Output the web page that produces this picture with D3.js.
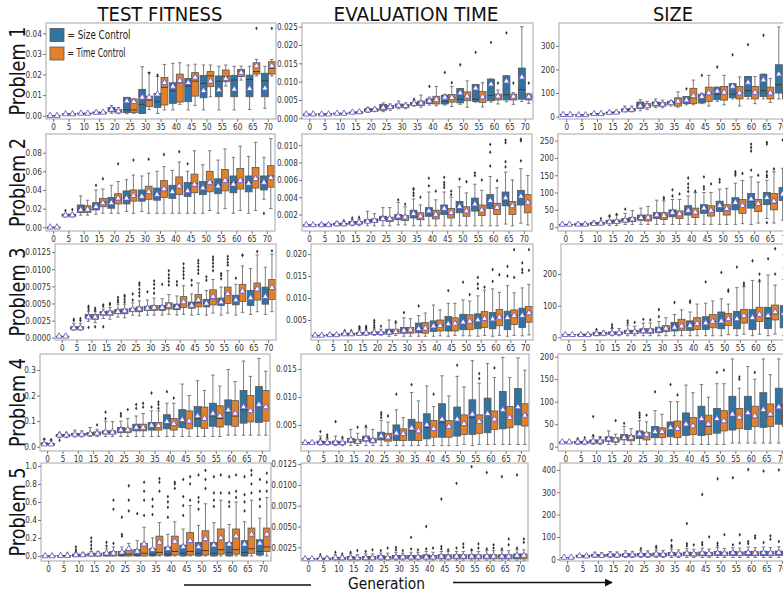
<!DOCTYPE html>
<html><head><meta charset="utf-8">
<script src="https://cdn.jsdelivr.net/npm/d3@7"></script>
<style>
body{margin:0;background:#fff}
svg{display:block;font-family:"DejaVu Sans",sans-serif}
</style>
</head><body>
<svg id="chart" width="783" height="594"></svg>
<script>
// Box statistics per generation: [lowWhisker, q1, median, q3, highWhisker, mean]
// SC = Size Control, TC = Time Control. Outliers: [generationIndex, series(0=SC,1=TC), value]
const generations = [0,5,10,15,20,25,30,35,40,45,50,55,60,65,70];
const metricTitles = ["TEST FITNESS","EVALUATION TIME","SIZE"];
const problemLabels = ["Problem 1","Problem 2","Problem 3","Problem 4","Problem 5"];
const seriesNames = ["Size Control","Time Control"];
const seriesColors = ["#3274a1","#e1812c"];

// ---------- Problem 1 ----------
const p1FitSC = [[0,0,0,0,0,0],[0.0006,0.0007,0.0008,0.0009,0.001,0.0008],[0.0008,0.0009,0.0011,0.0012,0.0014,0.0011],[0.001,0.0012,0.0014,0.0018,0.0022,0.0015],[0.0012,0.0019,0.0027,0.004,0.005,0.003],[0.001,0.0015,0.0028,0.0089,0.0089,0.0071],[0.0011,0.0011,0.0055,0.0128,0.0238,0.0089],[0.0011,0.004,0.0068,0.0108,0.019,0.0104],[0.0028,0.006,0.0121,0.016,0.0254,0.0142],[0.0028,0.0068,0.0144,0.0181,0.0246,0.016],[0.0028,0.0087,0.0157,0.0196,0.0246,0.0121],[0.0028,0.0092,0.0168,0.0193,0.024,0.0125],[0.0028,0.0092,0.0173,0.0196,0.024,0.0128],[0.003,0.0092,0.0176,0.0197,0.024,0.0131],[0.0036,0.0092,0.017,0.0206,0.024,0.0133]];
const p1FitTC = [[0,0,0,0,0,0],[0.0006,0.0007,0.0008,0.0009,0.001,0.0008],[0.0008,0.0009,0.0011,0.0012,0.0014,0.0011],[0.001,0.0012,0.0014,0.0017,0.002,0.0016],[0.001,0.0015,0.002,0.003,0.004,0.0022],[0.0012,0.0015,0.0028,0.0081,0.0081,0.0068],[0.003,0.0044,0.0076,0.0095,0.021,0.0089],[0.0028,0.0052,0.0138,0.0186,0.0249,0.016],[0.0055,0.0066,0.016,0.0202,0.0257,0.017],[0.005,0.0095,0.0168,0.0209,0.025,0.0186],[0.0092,0.0141,0.0193,0.0214,0.0246,0.0167],[0.0144,0.0165,0.019,0.0222,0.0246,0.018],[0.0173,0.019,0.0217,0.0225,0.0241,0.0209],[0.0193,0.0202,0.0214,0.0257,0.0273,0.0241],[0.0193,0.0202,0.023,0.0262,0.0273,0.0241]];
const p1FitOut = [[6,1,0.0207],[7,0,0.0197],[13,1,0.0424],[14,1,0.0424]];

const p1EvalSC = [[0.0011,0.0011,0.0011,0.0011,0.0011,0.0011],[0.001,0.0011,0.0011,0.0012,0.0012,0.0011],[0.0011,0.0012,0.0013,0.0014,0.0015,0.0013],[0.0013,0.0014,0.0015,0.0017,0.0019,0.0016],[0.0016,0.0019,0.0022,0.0026,0.003,0.0022],[0.0018,0.0022,0.0029,0.0038,0.0042,0.0029],[0.0026,0.003,0.0034,0.0039,0.0047,0.0035],[0.0033,0.0036,0.0039,0.0043,0.0048,0.004],[0.0036,0.004,0.0046,0.0053,0.0058,0.0047],[0.0036,0.0039,0.0046,0.0063,0.0065,0.0057],[0.0038,0.0042,0.0052,0.0081,0.0081,0.0069],[0.0044,0.0046,0.0052,0.0092,0.0092,0.0082],[0.0044,0.0048,0.0062,0.0107,0.0107,0.0093],[0.0045,0.005,0.0064,0.0116,0.0116,0.0101],[0.0046,0.0052,0.0078,0.0137,0.025,0.0112]];
const p1EvalTC = [[0.0011,0.0011,0.0011,0.0011,0.0011,0.0011],[0.001,0.0011,0.0011,0.0012,0.0012,0.0011],[0.0011,0.0012,0.0013,0.0014,0.0015,0.0013],[0.0013,0.0015,0.0016,0.0018,0.002,0.0017],[0.0018,0.002,0.0023,0.0026,0.0029,0.0024],[0.0022,0.0027,0.003,0.0035,0.0039,0.0031],[0.0026,0.003,0.0034,0.0038,0.0042,0.0034],[0.003,0.0035,0.0041,0.0047,0.0063,0.0041],[0.0034,0.0039,0.005,0.006,0.0087,0.0051],[0.0032,0.0044,0.0055,0.0065,0.0087,0.0056],[0.003,0.0048,0.006,0.0072,0.0102,0.006],[0.0031,0.0043,0.0057,0.0073,0.0097,0.0058],[0.0039,0.005,0.0057,0.0066,0.0077,0.006],[0.0038,0.005,0.0057,0.0066,0.007,0.0059],[0.004,0.005,0.0058,0.0066,0.0068,0.0059]];
const p1EvalOut = [[7,0,0.0052],[8,0,0.0087],[9,0,0.0125],[9,1,0.0097],[10,0,0.0146],[11,0,0.018],[12,0,0.0207],[12,1,0.0096],[13,0,0.0233],[13,1,0.0096],[14,1,0.0096]];

const p1SizeSC = [[8,8,8,8,8,8],[6,7,7,8,9,7],[9,10,12,13,15,12],[13,15,17,19,22,17],[20,24,28,33,45,28],[25,35,45,62,72,45],[38,45,55,62,75,55],[45,52,58,65,68,58],[50,55,68,85,85,70],[55,58,80,95,100,85],[65,72,95,125,125,108],[75,80,95,140,140,128],[75,85,110,170,170,145],[75,85,110,180,180,155],[75,100,135,220,380,180]];
const p1SizeTC = [[8,8,8,8,8,8],[6,7,7,8,9,7],[9,10,12,13,15,12],[14,16,18,20,23,18],[20,25,30,35,45,30],[30,40,45,55,65,45],[38,45,52,60,70,52],[40,45,60,80,105,65],[50,55,80,120,155,88],[45,65,100,125,175,100],[50,70,100,128,175,103],[45,75,100,128,168,100],[55,75,100,128,170,102],[60,75,100,125,162,100],[60,75,100,125,165,100]];
const p1SizeOut = [[8,0,118],[9,0,175],[10,0,210],[11,0,262],[12,0,305],[13,0,345]];

// ---------- Problem 2 ----------
const p2FitSC = [[0,0,0,0,0,0],[0.011,0.012,0.013,0.014,0.015,0.013],[0.013,0.0157,0.019,0.0239,0.0336,0.0186],[0.014,0.0186,0.021,0.0264,0.04,0.022],[0.015,0.0204,0.026,0.032,0.045,0.026],[0.017,0.025,0.031,0.039,0.051,0.031],[0.017,0.028,0.033,0.04,0.055,0.033],[0.015,0.029,0.035,0.042,0.06,0.035],[0.015,0.031,0.037,0.045,0.061,0.038],[0.015,0.033,0.039,0.048,0.06,0.039],[0.015,0.035,0.042,0.049,0.067,0.042],[0.015,0.036,0.045,0.052,0.072,0.044],[0.015,0.037,0.048,0.055,0.075,0.046],[0.015,0.038,0.048,0.055,0.076,0.047],[0.03,0.04,0.049,0.055,0.075,0.048]];
const p2FitTC = [[0,0,0,0,0,0],[0.011,0.012,0.013,0.014,0.015,0.013],[0.013,0.016,0.019,0.023,0.029,0.019],[0.015,0.022,0.027,0.031,0.041,0.026],[0.015,0.025,0.03,0.036,0.049,0.031],[0.015,0.028,0.034,0.04,0.056,0.034],[0.015,0.03,0.037,0.044,0.058,0.038],[0.015,0.032,0.04,0.05,0.065,0.041],[0.015,0.035,0.043,0.054,0.07,0.044],[0.015,0.037,0.047,0.057,0.082,0.046],[0.018,0.038,0.048,0.06,0.082,0.048],[0.02,0.039,0.05,0.062,0.084,0.05],[0.018,0.041,0.05,0.063,0.087,0.05],[0.018,0.042,0.051,0.064,0.091,0.052],[0.02,0.043,0.055,0.066,0.095,0.053]];
const p2FitOut = [[1,0,0.018],[1,1,0.019],[3,0,0.045],[3,1,0.052],[4,1,0.068],[5,1,0.072],[6,1,0.073],[7,1,0.078],[8,1,0.081],[9,0,0.068],[14,0,0.015]];

const p2EvalSC = [[0.0008,0.0008,0.0008,0.0008,0.0008,0.0008],[0.0007,0.00075,0.0008,0.0009,0.001,0.0008],[0.0007,0.0008,0.0009,0.001,0.0012,0.0009],[0.0007,0.0009,0.001,0.0012,0.0014,0.001],[0.0007,0.0011,0.0012,0.0014,0.0024,0.0012],[0.0007,0.0013,0.0015,0.0018,0.0028,0.0015],[0.0008,0.0014,0.0018,0.002,0.0034,0.0018],[0.0007,0.0016,0.002,0.0025,0.0038,0.0021],[0.0007,0.0018,0.0023,0.0028,0.0046,0.0024],[0.0007,0.002,0.0026,0.0031,0.0046,0.0027],[0.0007,0.0022,0.0029,0.0035,0.0052,0.0029],[0.0007,0.0024,0.0032,0.0039,0.0055,0.0032],[0.0007,0.0027,0.0035,0.0043,0.0064,0.0036],[0.0009,0.003,0.0037,0.0046,0.0069,0.0039],[0.001,0.0031,0.004,0.0048,0.0073,0.0041]];
const p2EvalTC = [[0.0008,0.0008,0.0008,0.0008,0.0008,0.0008],[0.0007,0.00075,0.0008,0.0009,0.001,0.0008],[0.0007,0.0008,0.0009,0.001,0.0012,0.0009],[0.0007,0.0009,0.001,0.0012,0.0015,0.0011],[0.0007,0.0011,0.0013,0.0015,0.0021,0.0013],[0.0007,0.0012,0.0014,0.0017,0.0028,0.0015],[0.0008,0.0013,0.0016,0.0019,0.0029,0.0017],[0.0007,0.0014,0.0018,0.0022,0.0031,0.0018],[0.0007,0.0015,0.002,0.0025,0.0037,0.002],[0.0007,0.0016,0.0021,0.0027,0.004,0.0022],[0.0007,0.0018,0.0024,0.0029,0.0045,0.0024],[0.0007,0.0019,0.0025,0.0031,0.0048,0.0025],[0.0007,0.002,0.0026,0.0033,0.0051,0.0028],[0.0007,0.002,0.003,0.0035,0.006,0.003],[0.0008,0.0022,0.0033,0.0043,0.0065,0.0034]];
const p2EvalOut = [[2,1,0.0013],[3,0,0.0016],[3,1,0.0017],[6,0,0.0037],[6,1,0.0032],[7,0,0.0042],[7,0,0.0045],[7,0,0.0049],[7,0,0.005],[7,1,0.004],[8,0,0.0053],[8,0,0.0062],[8,1,0.0047],[9,0,0.0051],[9,0,0.0054],[9,0,0.0057],[9,0,0.0063],[9,1,0.0043],[9,1,0.0047],[10,0,0.0061],[10,1,0.0058],[11,0,0.0065],[11,0,0.0068],[11,1,0.006],[12,0,0.0076],[12,0,0.0092],[12,0,0.0101],[12,1,0.0059],[13,0,0.0075],[13,0,0.0081],[13,0,0.0103],[13,0,0.0106],[14,0,0.0082],[14,0,0.0105],[14,0,0.0107]];

const p2SizeSC = [[8,8,8,8,8,8],[5,6,8,10,12,8],[6,8,10,14,18,10],[5,12,15,20,30,15],[8,15,20,25,40,20],[8,20,28,35,55,27],[8,25,35,42,78,35],[8,30,40,50,80,42],[8,35,47,62,90,48],[8,40,55,65,100,55],[8,45,60,75,110,62],[8,50,68,85,127,71],[8,55,75,97,145,81],[25,65,80,100,135,85],[20,77,95,115,170,95]];
const p2SizeTC = [[8,8,8,8,8,8],[5,6,8,10,12,8],[6,8,10,14,18,11],[5,12,16,21,35,16],[8,16,22,28,48,23],[8,18,27,35,60,28],[8,22,32,42,76,33],[8,25,38,47,80,38],[8,28,40,55,100,43],[8,32,47,62,100,48],[8,35,52,65,112,53],[10,40,60,80,135,62],[12,45,65,80,130,68],[12,50,70,97,160,75],[15,55,78,100,200,80]];
const p2SizeOut = [[2,1,25],[3,0,33],[3,1,37],[4,0,52],[6,1,82],[6,1,86],[7,0,90],[7,0,108],[7,1,96],[8,0,103],[8,0,114],[8,0,125],[8,0,142],[8,1,104],[9,0,110],[9,0,117],[9,0,145],[9,1,125],[10,0,130],[10,0,138],[11,0,150],[11,0,155],[11,0,160],[11,1,155],[12,0,165],[12,0,220],[12,0,230],[12,0,240],[12,1,150],[13,0,13],[13,0,145],[13,0,150],[13,0,160],[13,0,240],[13,0,245],[13,1,168],[14,0,252]];

// ---------- Problem 3 ----------
const p3FitSC = [[0.0002,0.0002,0.0002,0.0002,0.0002,0.0002],[0.0011,0.0013,0.0014,0.0016,0.0021,0.0014],[0.0024,0.0028,0.003,0.0034,0.0038,0.003],[0.0028,0.0033,0.0036,0.0038,0.0042,0.0036],[0.003,0.0035,0.0038,0.0041,0.0049,0.0038],[0.0033,0.0038,0.004,0.0043,0.0051,0.0041],[0.0033,0.004,0.0043,0.0046,0.0055,0.0043],[0.0033,0.004,0.0044,0.0047,0.0057,0.0044],[0.0033,0.0041,0.0045,0.0049,0.0061,0.0045],[0.0033,0.0043,0.0047,0.0052,0.0064,0.0047],[0.0033,0.0045,0.005,0.0056,0.0069,0.005],[0.0033,0.0047,0.0052,0.0058,0.0074,0.0052],[0.0033,0.0048,0.0055,0.0062,0.0078,0.0055],[0.0034,0.0047,0.0057,0.0069,0.0101,0.0058],[0.0034,0.0049,0.006,0.0074,0.0103,0.006]];
const p3FitTC = [[0.0002,0.0002,0.0002,0.0002,0.0002,0.0002],[0.0011,0.0013,0.0014,0.0016,0.0021,0.0014],[0.0022,0.0027,0.003,0.0034,0.0038,0.003],[0.0027,0.0033,0.0036,0.0039,0.0044,0.0036],[0.0029,0.0035,0.0038,0.0042,0.0049,0.0039],[0.0032,0.0038,0.0041,0.0045,0.0054,0.0042],[0.0033,0.004,0.0043,0.0047,0.0058,0.0044],[0.0034,0.0042,0.0046,0.0051,0.0063,0.0047],[0.0034,0.0044,0.005,0.006,0.0076,0.0052],[0.0034,0.0045,0.0051,0.0063,0.008,0.0055],[0.0036,0.0048,0.0057,0.007,0.0085,0.006],[0.0036,0.005,0.0062,0.0074,0.0098,0.0064],[0.0037,0.0053,0.0068,0.0078,0.0105,0.0068],[0.0038,0.0055,0.0069,0.008,0.0121,0.0071],[0.0038,0.0056,0.0071,0.0085,0.0122,0.0073]];
const p3FitOut = [[1,0,0.0025],[1,0,0.0027],[1,1,0.0025],[1,1,0.0028],[2,0,0.0041],[2,0,0.0044],[2,0,0.0046],[2,0,0.0015],[2,1,0.004],[2,1,0.0043],[2,1,0.0016],[3,0,0.0046],[3,0,0.0048],[3,0,0.0016],[3,1,0.0048],[3,1,0.005],[4,0,0.0052],[4,0,0.0055],[4,0,0.0059],[4,1,0.0052],[4,1,0.0056],[4,1,0.006],[4,1,0.0062],[5,0,0.0055],[5,0,0.0064],[5,1,0.0061],[5,1,0.0066],[5,1,0.0071],[5,1,0.0077],[5,1,0.008],[6,0,0.0067],[6,1,0.0065],[6,1,0.0072],[6,1,0.0078],[6,1,0.0083],[7,0,0.0078],[7,1,0.0077],[7,1,0.0082],[7,1,0.0087],[7,1,0.0092],[7,1,0.0098],[8,0,0.0077],[8,0,0.0082],[8,1,0.0087],[8,1,0.0092],[8,1,0.0097],[8,1,0.0102],[8,1,0.0108],[9,0,0.0077],[9,0,0.0084],[9,1,0.0094],[9,1,0.0099],[9,1,0.0104],[9,1,0.0109],[9,1,0.0113],[10,0,0.0084],[10,0,0.0089],[10,1,0.0098],[10,1,0.0104],[10,1,0.0109],[10,1,0.0114],[10,1,0.0118],[11,0,0.0086],[11,0,0.0091],[11,0,0.0094],[11,1,0.0106],[11,1,0.011],[11,1,0.0115],[11,1,0.0119],[12,0,0.0087],[12,1,0.012],[12,1,0.0121],[13,1,0.0126],[14,1,0.0127]];

const p3EvalSC = [[0.0015,0.0015,0.0015,0.0015,0.0015,0.0015],[0.0014,0.0015,0.0016,0.0017,0.0019,0.0016],[0.0015,0.0016,0.0018,0.002,0.0023,0.0018],[0.0015,0.0017,0.0019,0.0021,0.0027,0.0019],[0.0015,0.0018,0.002,0.0023,0.0029,0.0021],[0.0013,0.0018,0.0023,0.0029,0.005,0.0022],[0.0013,0.002,0.0026,0.0033,0.0055,0.0026],[0.0013,0.0021,0.003,0.0043,0.006,0.003],[0.0013,0.0024,0.0035,0.0048,0.0084,0.0036],[0.0013,0.0025,0.004,0.0058,0.0088,0.0041],[0.0014,0.0028,0.0045,0.0063,0.0096,0.0045],[0.0013,0.003,0.0048,0.0064,0.0105,0.005],[0.0013,0.003,0.0052,0.0067,0.0121,0.0052],[0.0013,0.0028,0.0055,0.007,0.0128,0.0055],[0.0014,0.0033,0.006,0.0077,0.0123,0.006]];
const p3EvalTC = [[0.0015,0.0015,0.0015,0.0015,0.0015,0.0015],[0.0014,0.0015,0.0016,0.0017,0.0019,0.0016],[0.0015,0.0016,0.0018,0.002,0.0023,0.0018],[0.0015,0.0017,0.0019,0.0022,0.0027,0.002],[0.0015,0.0018,0.002,0.0023,0.0029,0.0021],[0.0015,0.0019,0.0023,0.0029,0.0043,0.0023],[0.0013,0.002,0.0027,0.0033,0.0053,0.0027],[0.0013,0.002,0.003,0.0044,0.0066,0.0031],[0.0014,0.0025,0.0038,0.005,0.0073,0.0037],[0.0015,0.0025,0.004,0.0055,0.0088,0.0042],[0.0014,0.0028,0.0046,0.0062,0.0093,0.0047],[0.0015,0.0033,0.005,0.0069,0.0118,0.0053],[0.0015,0.0037,0.0055,0.0074,0.0113,0.0056],[0.0015,0.004,0.006,0.0073,0.0112,0.006],[0.0016,0.0045,0.0065,0.0081,0.0131,0.0066]];
const p3EvalOut = [[2,0,0.0026],[2,1,0.0026],[3,0,0.003],[3,0,0.0033],[3,0,0.0035],[3,1,0.003],[3,1,0.0033],[3,1,0.0036],[4,0,0.0033],[4,0,0.0038],[4,0,0.0044],[4,0,0.0049],[4,1,0.0036],[5,1,0.0046],[6,0,0.0067],[7,0,0.0082],[9,0,0.0117],[10,0,0.0136],[10,1,0.0108],[11,0,0.0122],[11,0,0.0132],[11,0,0.0147],[11,1,0.0125],[12,0,0.0138],[12,0,0.0165],[12,1,0.0153],[13,0,0.015],[13,0,0.0172],[13,1,0.0147],[13,1,0.021],[14,0,0.0158],[14,0,0.0165],[14,0,0.018],[14,1,0.0163],[14,1,0.021]];

const p3SizeSC = [[8,8,8,8,8,8],[5,6,8,10,12,8],[5,8,11,15,20,11],[5,10,13,17,28,13],[5,12,17,22,38,17],[5,14,20,27,45,20],[5,15,23,32,50,23],[5,20,30,47,72,31],[5,22,38,52,80,37],[5,25,43,65,108,45],[5,27,50,80,122,51],[5,27,55,82,157,58],[5,25,60,88,180,62],[5,28,60,95,197,68],[5,30,70,100,183,75]];
const p3SizeTC = [[8,8,8,8,8,8],[5,6,8,10,12,8],[5,8,11,15,20,12],[5,10,13,17,28,14],[5,12,17,22,35,17],[5,13,20,27,45,21],[5,18,27,37,62,28],[5,22,33,57,87,35],[5,25,42,62,105,43],[5,30,50,72,115,50],[8,37,55,75,105,58],[10,45,65,88,160,68],[10,50,70,95,175,72],[10,55,75,102,165,80],[10,55,75,105,175,78]];
const p3SizeOut = [[2,0,25],[3,0,32],[3,0,40],[4,0,45],[4,0,52],[4,1,47],[5,0,57],[5,1,55],[6,0,65],[6,0,88],[7,0,110],[8,0,110],[8,0,115],[9,0,175],[10,0,205],[10,1,145],[10,1,150],[11,0,222],[11,1,165],[11,1,172],[12,0,242],[12,1,180],[12,1,200],[13,0,248],[13,1,200],[13,1,280],[14,0,218],[14,0,262],[14,1,225]];

// ---------- Problem 4 ----------
const p4FitSC = [[0.005,0.008,0.012,0.015,0.03,0.01],[0.035,0.04,0.045,0.048,0.05,0.045],[0.038,0.045,0.048,0.052,0.065,0.048],[0.04,0.046,0.05,0.055,0.075,0.05],[0.04,0.05,0.055,0.062,0.1,0.057],[0.04,0.055,0.065,0.075,0.1,0.065],[0.04,0.062,0.075,0.088,0.12,0.075],[0.04,0.065,0.08,0.095,0.14,0.083],[0.04,0.07,0.09,0.125,0.17,0.098],[0.04,0.075,0.1,0.145,0.245,0.105],[0.04,0.078,0.11,0.157,0.258,0.12],[0.04,0.08,0.12,0.17,0.28,0.13],[0.045,0.085,0.135,0.183,0.302,0.143],[0.045,0.092,0.145,0.22,0.335,0.155],[0.045,0.095,0.16,0.235,0.345,0.165]];
const p4FitTC = [[0.005,0.008,0.01,0.013,0.025,0.01],[0.035,0.04,0.045,0.048,0.05,0.045],[0.038,0.044,0.048,0.052,0.062,0.048],[0.04,0.046,0.05,0.058,0.068,0.052],[0.04,0.05,0.056,0.062,0.098,0.056],[0.04,0.056,0.063,0.072,0.11,0.065],[0.04,0.062,0.075,0.088,0.13,0.075],[0.04,0.065,0.078,0.095,0.14,0.082],[0.04,0.065,0.085,0.11,0.17,0.09],[0.04,0.07,0.095,0.14,0.2,0.1],[0.04,0.072,0.105,0.155,0.22,0.11],[0.04,0.077,0.11,0.16,0.237,0.12],[0.045,0.08,0.12,0.18,0.255,0.13],[0.045,0.097,0.14,0.2,0.275,0.14],[0.045,0.1,0.15,0.22,0.295,0.155]];
const p4FitOut = [[0,0,0.03],[0,1,0.028],[1,0,0.025],[1,0,0.055],[1,1,0.055],[3,1,0.085],[4,0,0.11],[4,0,0.135],[5,0,0.12],[5,0,0.13],[5,1,0.145],[6,0,0.15],[6,0,0.165],[6,1,0.155],[6,1,0.17],[7,0,0.155],[7,0,0.21],[7,1,0.15],[7,1,0.165],[7,1,0.175],[8,0,0.215],[8,1,0.19]];

const p4EvalSC = [[0.0018,0.0018,0.0018,0.0018,0.0018,0.0018],[0.0014,0.0017,0.0018,0.0021,0.003,0.0018],[0.0013,0.0016,0.0018,0.0021,0.003,0.0018],[0.0013,0.0019,0.0022,0.0026,0.0042,0.0023],[0.0013,0.0021,0.0025,0.003,0.0045,0.0025],[0.0013,0.0023,0.003,0.0037,0.0058,0.003],[0.0013,0.0022,0.0035,0.005,0.0077,0.0035],[0.0013,0.0022,0.004,0.006,0.0108,0.0044],[0.0013,0.0025,0.0045,0.007,0.012,0.005],[0.0013,0.0028,0.0055,0.0088,0.0138,0.006],[0.0013,0.003,0.0058,0.0082,0.0137,0.006],[0.0013,0.0033,0.0063,0.0095,0.0165,0.0069],[0.0015,0.0036,0.0068,0.0098,0.016,0.007],[0.0015,0.0043,0.0075,0.011,0.0171,0.0077],[0.0015,0.005,0.008,0.0115,0.017,0.0082]];
const p4EvalTC = [[0.0018,0.0018,0.0018,0.0018,0.0018,0.0018],[0.0014,0.0016,0.0018,0.002,0.0025,0.0018],[0.0013,0.0016,0.0018,0.002,0.0025,0.0018],[0.0013,0.0017,0.002,0.0024,0.0035,0.002],[0.0013,0.0018,0.0022,0.0026,0.0042,0.0022],[0.0013,0.0021,0.0027,0.0035,0.0055,0.0028],[0.0013,0.0022,0.0033,0.0043,0.0063,0.0034],[0.0013,0.0022,0.0038,0.0055,0.0093,0.0039],[0.0013,0.0028,0.0042,0.0058,0.0083,0.0043],[0.0013,0.0028,0.0045,0.0058,0.0102,0.0047],[0.0015,0.0033,0.005,0.0068,0.0118,0.0052],[0.0015,0.0035,0.0055,0.0068,0.0125,0.0056],[0.0015,0.0042,0.0058,0.0075,0.0135,0.006],[0.0015,0.0045,0.0062,0.0083,0.0135,0.0063],[0.0015,0.0048,0.0068,0.0088,0.0148,0.0067]];
const p4EvalOut = [[1,0,0.0038],[1,0,0.0025],[1,1,0.0032],[1,1,0.0028],[2,0,0.0056],[2,1,0.0028],[3,1,0.0046],[4,0,0.0048],[5,0,0.0063],[5,0,0.0068],[5,0,0.0072],[5,1,0.0066],[6,0,0.0105],[7,0,0.0122],[8,1,0.0105],[10,0,0.0157],[11,1,0.0133],[11,1,0.0142],[12,1,0.0152]];

const p4SizeSC = [[10,10,10,10,10,10],[5,7,9,12,15,10],[5,8,11,15,22,12],[5,12,16,22,35,17],[5,15,20,27,45,20],[5,18,25,35,58,28],[5,20,30,45,80,33],[5,22,40,55,100,42],[5,25,48,75,137,50],[5,25,60,90,138,62],[5,30,60,85,140,62],[8,37,70,112,195,72],[8,38,72,112,178,75],[8,43,80,120,195,82],[8,50,88,130,195,88]];
const p4SizeTC = [[10,10,10,10,10,10],[5,7,9,12,15,10],[5,8,11,15,22,12],[5,10,14,20,28,15],[5,13,18,25,40,20],[5,15,25,32,55,27],[5,20,32,42,72,33],[5,20,38,57,100,40],[5,27,45,65,120,46],[5,27,45,70,110,50],[5,35,55,80,140,57],[8,40,62,85,130,65],[8,45,65,90,150,68],[8,45,68,95,160,72],[8,45,70,95,175,75]];
const p4SizeOut = [[1,0,15],[1,0,18],[1,1,20],[2,0,25],[2,0,67],[2,1,20],[3,1,58],[4,0,52],[5,0,65],[5,0,70],[5,0,75],[5,1,70],[6,0,122],[7,0,138],[7,1,115],[10,0,165],[10,1,170],[11,1,150],[11,1,155],[12,1,165],[14,1,165]];

// ---------- Problem 5 ----------
const p5FitSC = [[0,0,0,0,0,0],[0,0,0,0.005,0.01,0.003],[0,0,0,0.02,0.04,0.01],[0,0,0.005,0.03,0.05,0.02],[0,0,0.01,0.04,0.08,0.03],[0,0,0.01,0.05,0.1,0.04],[0,0,0.01,0.07,0.17,0.05],[0,0,0.02,0.08,0.2,0.07],[0,0,0.02,0.1,0.24,0.08],[0,0,0.03,0.12,0.3,0.1],[0,0,0.03,0.15,0.34,0.1],[0,0,0.03,0.15,0.37,0.12],[0,0,0.04,0.15,0.35,0.13],[0,0,0.04,0.17,0.38,0.13],[0,0.01,0.05,0.18,0.42,0.14]];
const p5FitTC = [[0,0,0,0,0,0],[0,0,0,0.005,0.01,0.003],[0,0,0,0.02,0.04,0.01],[0,0,0.005,0.03,0.05,0.02],[0,0,0.02,0.05,0.1,0.03],[0,0,0.02,0.07,0.14,0.08],[0,0,0.03,0.14,0.32,0.13],[0,0.01,0.04,0.22,0.37,0.15],[0,0.01,0.05,0.22,0.38,0.16],[0,0.01,0.05,0.26,0.56,0.17],[0,0.01,0.06,0.28,0.58,0.19],[0,0.02,0.07,0.3,0.62,0.2],[0,0.02,0.07,0.3,0.6,0.22],[0,0.03,0.08,0.31,0.62,0.24],[0,0.05,0.1,0.31,0.65,0.24]];
const p5FitOut = [[1,1,0.03],[2,0,0.05],[2,0,0.07],[2,0,0.1],[3,0,0.08],[3,0,0.12],[3,0,0.16],[3,0,0.2],[4,0,0.11],[4,0,0.15],[4,1,0.14],[4,1,0.52],[4,1,0.62],[5,0,0.22],[5,0,0.24],[5,0,0.43],[5,1,0.5],[5,1,0.62],[5,1,0.78],[6,0,0.47],[6,1,0.45],[6,1,0.62],[6,1,0.72],[6,1,0.82],[7,0,0.46],[7,0,0.55],[7,0,0.63],[7,1,0.72],[7,1,0.82],[7,1,0.86],[8,0,0.43],[8,0,0.54],[8,0,0.6],[8,0,0.66],[8,1,0.75],[8,1,0.8],[8,1,0.82],[9,0,0.45],[9,0,0.56],[9,0,0.66],[9,0,0.85],[9,1,0.62],[9,1,0.8],[9,1,0.88],[10,0,0.52],[10,0,0.6],[10,0,0.65],[10,0,0.9],[10,1,0.75],[10,1,0.85],[10,1,0.95],[11,0,0.55],[11,0,0.62],[11,0,0.7],[11,0,0.88],[11,1,0.7],[11,1,0.9],[12,0,0.55],[12,0,0.6],[12,0,0.7],[12,0,0.88],[12,1,0.65],[12,1,0.72],[12,1,0.9],[13,0,0.5],[13,0,0.6],[13,0,0.68],[13,0,0.88],[13,1,0.7],[13,1,0.8],[13,1,0.9],[13,1,0.95],[14,0,0.55],[14,0,0.63],[14,0,0.72],[14,0,0.85],[14,1,0.72],[14,1,0.82],[14,1,0.92]];

const p5EvalSC = [[0.0011,0.0011,0.0011,0.0011,0.0011,0.0011],[0.0009,0.001,0.0011,0.0012,0.0014,0.0011],[0.0009,0.001,0.0012,0.0013,0.0016,0.0012],[0.0009,0.001,0.0012,0.0014,0.0017,0.0012],[0.0009,0.001,0.0012,0.0014,0.0017,0.0012],[0.0009,0.0011,0.0012,0.0015,0.0018,0.0013],[0.0009,0.0011,0.0013,0.0015,0.0019,0.0013],[0.0009,0.0011,0.0013,0.0015,0.0019,0.0013],[0.0009,0.0011,0.0013,0.0016,0.002,0.0013],[0.0009,0.0011,0.0013,0.0016,0.002,0.0014],[0.0009,0.0011,0.0013,0.0016,0.002,0.0014],[0.0009,0.0011,0.0013,0.0016,0.0021,0.0014],[0.0009,0.0011,0.0013,0.0016,0.0021,0.0014],[0.0009,0.0011,0.0013,0.0016,0.0021,0.0014],[0.0009,0.0011,0.0014,0.0017,0.0022,0.0015]];
const p5EvalTC = [[0.0011,0.0011,0.0011,0.0011,0.0011,0.0011],[0.0009,0.001,0.0011,0.0012,0.0014,0.0011],[0.0009,0.001,0.0011,0.0013,0.0015,0.0012],[0.0009,0.001,0.0012,0.0013,0.0016,0.0012],[0.0009,0.001,0.0012,0.0014,0.0017,0.0012],[0.0009,0.001,0.0012,0.0014,0.0018,0.0012],[0.0009,0.0011,0.0012,0.0015,0.0018,0.0013],[0.0009,0.0011,0.0013,0.0015,0.0019,0.0013],[0.0009,0.0011,0.0013,0.0015,0.0019,0.0013],[0.0009,0.0011,0.0013,0.0016,0.002,0.0013],[0.0009,0.0011,0.0013,0.0016,0.002,0.0014],[0.0009,0.0011,0.0013,0.0016,0.002,0.0014],[0.0009,0.0011,0.0013,0.0016,0.0021,0.0014],[0.0009,0.0011,0.0013,0.0016,0.0021,0.0014],[0.0009,0.0011,0.0014,0.0017,0.0022,0.0015]];
const p5EvalOut = [[1,0,0.0016],[2,0,0.0019],[2,1,0.0017],[3,0,0.0019],[3,1,0.0021],[4,0,0.002],[4,1,0.0022],[5,0,0.0021],[5,1,0.0024],[6,0,0.0022],[6,0,0.0025],[6,1,0.0021],[7,0,0.0023],[7,0,0.0037],[7,1,0.0022],[8,0,0.0023],[8,0,0.005],[8,1,0.0024],[9,0,0.0023],[9,0,0.0026],[9,0,0.0083],[9,1,0.0022],[10,0,0.0024],[10,0,0.0102],[10,1,0.0025],[10,1,0.0029],[11,0,0.0022],[11,0,0.0122],[11,1,0.0024],[11,1,0.0029],[12,0,0.0023],[12,0,0.0115],[12,1,0.0024],[12,1,0.0028],[13,0,0.0023],[13,0,0.011],[13,1,0.0028],[13,1,0.0035],[14,0,0.0024],[14,0,0.0112],[14,1,0.0031],[14,1,0.0035]];

const p5SizeSC = [[8,8,8,8,8,8],[8,12,15,18,22,15],[8,13,17,22,32,18],[8,14,18,24,35,19],[8,14,19,25,38,20],[8,15,20,26,40,21],[8,15,21,28,42,23],[8,16,22,30,45,24],[8,16,23,32,48,26],[8,16,24,33,50,27],[8,17,25,35,52,28],[8,17,25,35,52,28],[8,17,26,36,55,29],[8,17,26,36,55,29],[8,18,27,37,56,30]];
const p5SizeTC = [[8,8,8,8,8,8],[8,11,14,17,21,14],[8,12,16,21,30,17],[8,13,17,23,33,18],[8,13,18,24,36,19],[8,14,19,25,38,20],[8,14,20,27,40,21],[8,15,21,28,42,22],[8,15,22,30,45,24],[8,15,22,31,46,25],[8,16,23,32,48,26],[8,16,23,33,50,26],[8,16,24,34,52,27],[8,16,24,34,52,27],[8,17,25,35,53,28]];
const p5SizeOut = [[5,0,48],[6,0,52],[6,0,58],[7,0,55],[7,0,62],[7,0,85],[8,0,60],[8,0,70],[8,0,160],[8,1,65],[9,0,65],[9,0,75],[9,0,290],[9,1,100],[10,0,62],[10,0,72],[10,0,360],[10,1,110],[11,0,65],[11,0,365],[11,1,72],[11,1,110],[12,0,70],[12,0,80],[12,0,402],[12,1,95],[12,1,105],[13,0,75],[13,0,395],[13,1,90],[13,1,105],[14,0,80],[14,0,400],[14,1,130]];

// Y tick values per panel
const p1FitTicks = [0,0.01,0.02,0.03,0.04];
const p1EvalTicks = [0,0.005,0.01,0.015,0.02,0.025];
const p1SizeTicks = [0,100,200,300];
const p2FitTicks = [0,0.02,0.04,0.06,0.08];
const p2EvalTicks = [0.002,0.004,0.006,0.008,0.01];
const p2SizeTicks = [0,50,100,150,200,250];
const p3FitTicks = [0,0.0025,0.005,0.0075,0.01,0.0125];
const p3EvalTicks = [0.005,0.01,0.015,0.02];
const p3SizeTicks = [0,100,200];
const p4FitTicks = [0,0.1,0.2,0.3];
const p4EvalTicks = [0.005,0.01,0.015];
const p4SizeTicks = [0,50,100,150,200];
const p5FitTicks = [0,0.2,0.4,0.6,0.8,1.0];
const p5EvalTicks = [0.0025,0.005,0.0075,0.01,0.0125];
const p5SizeTicks = [0,100,200,300,400];

// ---------- Layout ----------
const rowTop = [23,134,244,354,463];
const rowBottom = [119,231,340,451,561];
const colBounds = [
  [[46,276],[302,533],[559,790]],
  [[46,275],[302,532],[558,794]],
  [[55,276],[311,533],[561,795]],
  [[40,270],[301,529],[558,790]],
  [[41,271],[301,528],[560,790]]
];

const panels = [
  {row:0,col:0,sc:p1FitSC,tc:p1FitTC,out:p1FitOut,domain:[-0.0016,0.045],ticks:p1FitTicks,fmt:".2f"},
  {row:0,col:1,sc:p1EvalSC,tc:p1EvalTC,out:p1EvalOut,domain:[-0.0002,0.026],ticks:p1EvalTicks,fmt:".3f"},
  {row:0,col:2,sc:p1SizeSC,tc:p1SizeTC,out:p1SizeOut,domain:[-10,397],ticks:p1SizeTicks,fmt:"d"},
  {row:1,col:0,sc:p2FitSC,tc:p2FitTC,out:p2FitOut,domain:[-0.004,0.1],ticks:p2FitTicks,fmt:".2f"},
  {row:1,col:1,sc:p2EvalSC,tc:p2EvalTC,out:p2EvalOut,domain:[0.0001,0.0113],ticks:p2EvalTicks,fmt:".3f"},
  {row:1,col:2,sc:p2SizeSC,tc:p2SizeTC,out:p2SizeOut,domain:[-11,269],ticks:p2SizeTicks,fmt:"d"},
  {row:2,col:0,sc:p3FitSC,tc:p3FitTC,out:p3FitOut,domain:[-0.00034,0.0137],ticks:p3FitTicks,fmt:".4f"},
  {row:2,col:1,sc:p3EvalSC,tc:p3EvalTC,out:p3EvalOut,domain:[0.00045,0.0223],ticks:p3EvalTicks,fmt:".3f"},
  {row:2,col:2,sc:p3SizeSC,tc:p3SizeTC,out:p3SizeOut,domain:[-8.5,295],ticks:p3SizeTicks,fmt:"d"},
  {row:3,col:0,sc:p4FitSC,tc:p4FitTC,out:p4FitOut,domain:[-0.0168,0.3625],ticks:p4FitTicks,fmt:".1f"},
  {row:3,col:1,sc:p4EvalSC,tc:p4EvalTC,out:p4EvalOut,domain:[0.00033,0.0177],ticks:p4EvalTicks,fmt:".3f"},
  {row:3,col:2,sc:p4SizeSC,tc:p4SizeTC,out:p4SizeOut,domain:[-9.6,206],ticks:p4SizeTicks,fmt:"d"},
  {row:4,col:0,sc:p5FitSC,tc:p5FitTC,out:p5FitOut,domain:[-0.056,1.033],ticks:p5FitTicks,fmt:".1f"},
  {row:4,col:1,sc:p5EvalSC,tc:p5EvalTC,out:p5EvalOut,domain:[0.00085,0.01264],ticks:p5EvalTicks,fmt:".4f"},
  {row:4,col:2,sc:p5SizeSC,tc:p5SizeTC,out:p5SizeOut,domain:[-7.6,431],ticks:p5SizeTicks,fmt:"d"}
];

const whiskerColor = "#6e6e6e";
const edgeColor = "#555";
const meanStroke = "#6a5acd";
const svg = d3.select("#chart");
const defs = svg.append("defs");

panels.forEach(p => {
  const [x0, x1] = colBounds[p.row][p.col];
  const y0 = rowTop[p.row], y1 = rowBottom[p.row];
  const x = d3.scaleBand().domain(generations).range([x0, x1]);
  const hue = d3.scaleBand().domain([0, 1]).range([0, x.bandwidth()]).paddingOuter(0.11);
  const y = d3.scaleLinear().domain(p.domain).range([y1, y0]);
  const clipId = `clip-${p.row}-${p.col}`;
  defs.append("clipPath").attr("id", clipId)
    .append("rect").attr("x", x0).attr("y", y0).attr("width", x1 - x0).attr("height", y1 - y0);

  const g = svg.append("g");
  const plot = g.append("g").attr("clip-path", `url(#${clipId})`);

  [p.sc, p.tc].forEach((series, s) => {
    series.forEach((b, i) => {
      const [lo, q1, med, q3, hi] = b;
      const bx = x(generations[i]) + hue(s), bw = hue.bandwidth(), cx = bx + bw / 2;
      const box = plot.append("g");
      // whiskers and caps
      box.append("line").attr("x1", cx).attr("x2", cx).attr("y1", y(q1)).attr("y2", y(lo))
        .attr("stroke", whiskerColor).attr("stroke-width", 0.9);
      box.append("line").attr("x1", cx).attr("x2", cx).attr("y1", y(q3)).attr("y2", y(hi))
        .attr("stroke", whiskerColor).attr("stroke-width", 0.9);
      [lo, hi].forEach(v => box.append("line")
        .attr("x1", cx - bw / 4).attr("x2", cx + bw / 4).attr("y1", y(v)).attr("y2", y(v))
        .attr("stroke", whiskerColor).attr("stroke-width", 0.9));
      // interquartile box
      box.append("rect").attr("x", bx).attr("width", bw)
        .attr("y", y(q3)).attr("height", Math.max(0.01, y(q1) - y(q3)))
        .attr("fill", seriesColors[s]).attr("stroke", edgeColor).attr("stroke-width", 0.8);
      // median
      box.append("line").attr("x1", bx).attr("x2", bx + bw).attr("y1", y(med)).attr("y2", y(med))
        .attr("stroke", "#3c3c3c").attr("stroke-width", 1);
    });
  });

  // outliers (thin diamonds)
  plot.selectAll("path.flier").data(p.out).join("path")
    .attr("class", "flier")
    .attr("d", d => {
      const cx = x(generations[d[0]]) + hue(d[1]) + hue.bandwidth() / 2, cy = y(d[2]);
      return `M${cx},${cy - 1.9}L${cx + 1.2},${cy}L${cx},${cy + 1.9}L${cx - 1.2},${cy}Z`;
    })
    .attr("fill", "#333");

  // mean markers
  [p.sc, p.tc].forEach((series, s) => {
    plot.selectAll(`path.mean${s}`).data(series).join("path")
      .attr("class", `mean${s}`)
      .attr("d", d3.symbol(d3.symbolTriangle, 16))
      .attr("transform", (d, i) => `translate(${x(generations[i]) + hue(s) + hue.bandwidth() / 2},${y(d[5])})`)
      .attr("fill", "#fff").attr("stroke", meanStroke).attr("stroke-width", 0.9);
  });

  // frame
  g.append("rect").attr("x", x0).attr("y", y0).attr("width", x1 - x0).attr("height", y1 - y0)
    .attr("fill", "none").attr("stroke", "#b5b5b5").attr("stroke-width", 1.2);

  // axes
  const xAxis = g.append("g").attr("transform", `translate(0,${y1})`)
    .call(d3.axisBottom(x).tickSize(3).tickPadding(2));
  const yAxis = g.append("g").attr("transform", `translate(${x0},0)`)
    .call(d3.axisLeft(y).tickValues(p.ticks).tickFormat(d3.format(p.fmt)).tickSize(3).tickPadding(2));
  [xAxis, yAxis].forEach(a => {
    a.select(".domain").remove();
    a.selectAll(".tick line").attr("stroke", "#777");
    a.selectAll(".tick text").attr("fill", "#333").style("font-size", "8.7px")
      .style("font-family", "'DejaVu Sans', sans-serif")
      .attr("transform", "scale(0.84,1)");
  });
});

// column titles
const titleCenters = [160, 416, 673], titleWidths = [125, 165, 40];
metricTitles.forEach((t, i) => {
  svg.append("text").attr("x", titleCenters[i]).attr("y", 20.5).attr("text-anchor", "middle")
    .attr("textLength", titleWidths[i]).attr("lengthAdjust", "spacingAndGlyphs")
    .style("font-size", "19.5px").attr("fill", "#111").text(t);
});

// row labels
problemLabels.forEach((t, r) => {
  const cy = (rowTop[r] + rowBottom[r]) / 2;
  svg.append("text").attr("transform", `translate(25,${cy}) rotate(-90)`)
    .attr("text-anchor", "middle").attr("textLength", 89).attr("lengthAdjust", "spacingAndGlyphs")
    .style("font-size", "21.5px").attr("fill", "#111").text(t);
});

// legend inside the first panel
const legendRows = [{y: 28.5, w: 63}, {y: 47, w: 58}];
seriesNames.forEach((name, s) => {
  svg.append("rect").attr("x", 50).attr("y", legendRows[s].y).attr("width", 14).attr("height", 13)
    .attr("fill", seriesColors[s]).attr("stroke", edgeColor).attr("stroke-width", 0.8);
  svg.append("text").attr("x", 67.5).attr("y", legendRows[s].y + 10)
    .attr("textLength", legendRows[s].w).attr("lengthAdjust", "spacingAndGlyphs")
    .style("font-size", "11.5px").attr("fill", "#222").text("= " + name);
});

// shared x label with direction line and arrow
defs.append("marker").attr("id", "arrowhead").attr("viewBox", "0 0 10 10")
  .attr("refX", 9).attr("refY", 5).attr("markerWidth", 5).attr("markerHeight", 5)
  .attr("orient", "auto").append("path").attr("d", "M0,0L10,5L0,10Z").attr("fill", "#111");
svg.append("line").attr("x1", 184).attr("x2", 311).attr("y1", 585).attr("y2", 585)
  .attr("stroke", "#111").attr("stroke-width", 1.6);
svg.append("line").attr("x1", 453).attr("x2", 612).attr("y1", 582.5).attr("y2", 582.5)
  .attr("stroke", "#111").attr("stroke-width", 1.6).attr("marker-end", "url(#arrowhead)");
svg.append("text").attr("x", 386.5).attr("y", 589).attr("text-anchor", "middle")
  .attr("textLength", 77).attr("lengthAdjust", "spacingAndGlyphs")
  .style("font-size", "16.5px").attr("fill", "#111").text("Generation");
</script>
</body></html>
